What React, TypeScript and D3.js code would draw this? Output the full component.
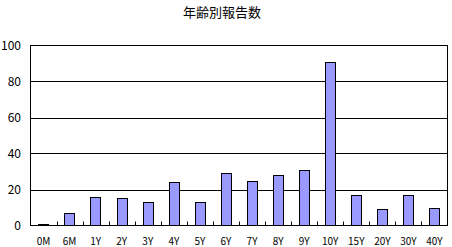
import React from "react";
import * as d3 from "d3";

const categories = ["0M", "6M", "1Y", "2Y", "3Y", "4Y", "5Y", "6Y", "7Y", "8Y", "9Y", "10Y", "15Y", "20Y", "30Y", "40Y"];
const counts = [1, 7, 16, 15, 13, 24, 13, 29, 25, 28, 31, 91, 17, 9, 17, 10];
const yTicks = [0, 20, 40, 60, 80, 100];
const title = "年齢別報告数";

const W = 452;
const H = 247;
const margin = { left: 30.5, right: 4.5, top: 45.5, bottom: 21.5 };
const font = "'Noto Sans CJK JP', sans-serif";

export default function App() {
  const x = d3
    .scaleBand<string>()
    .domain(categories)
    .range([margin.left, W - margin.right]);
  const y = d3.scaleLinear().domain([0, 100]).range([H - margin.bottom - 0, margin.top]);
  const barW = x.bandwidth() * 0.4;
  const x0 = margin.left;
  const x1 = W - margin.right;
  const y0 = y(0);

  return (
    <svg
      width={W}
      height={H}
      style={{ position: "absolute", left: 0, top: 0, background: "#fff" }}
      fontFamily={font}
    >
      <text x={222} y={17} textAnchor="middle" fontSize={13} fill="#000">
        {title}
      </text>
      {yTicks.map((t) => (
        <g key={t}>
          {t > 0 && t < 100 && (
            <line x1={x0} x2={x1} y1={Math.round(y(t)) + 0.5} y2={Math.round(y(t)) + 0.5} stroke="#000" />
          )}
          <text x={21} y={y(t) + 4} textAnchor="end" fontSize={12} fill="#000">
            {t}
          </text>
        </g>
      ))}
      {categories.map((c, i) => {
        const cx = (x(c) ?? 0) + x.bandwidth() / 2;
        const v = counts[i];
        const top = y(v);
        return (
          <g key={c}>
            <rect
              x={Math.round(cx - barW / 2) + 0.5}
              y={Math.round(top) + 0.5}
              width={Math.round(barW)}
              height={y0 - Math.round(top) - 0.5}
              fill="#9999FF"
              stroke="#000"
            />
            <text x={cx} y={245} textAnchor="middle" fontSize={10} fill="#000">
              {c}
            </text>
          </g>
        );
      })}
      {categories.slice(1).map((c) => {
        const tx = Math.round(x(c) ?? 0) + 0.5;
        return <line key={"t" + c} x1={tx} x2={tx} y1={y0} y2={y0 - 4} stroke="#000" />;
      })}
      <rect x={x0} y={margin.top} width={x1 - x0} height={y0 - margin.top} fill="none" stroke="#000" />
    </svg>
  );
}
